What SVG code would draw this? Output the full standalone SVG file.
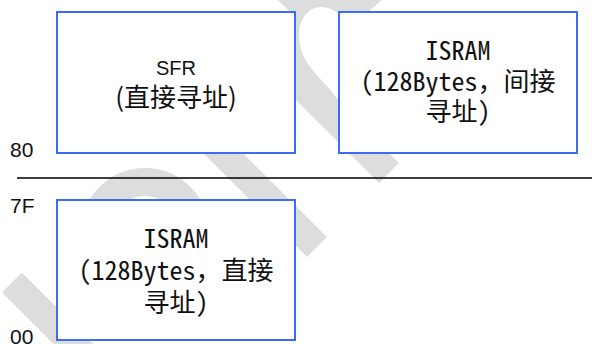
<svg xmlns="http://www.w3.org/2000/svg" width="592" height="344" viewBox="0 0 592 344">
<style>
.wm{fill:none;stroke:#dddddd;stroke-width:28;stroke-linecap:butt}
.box{fill:#ffffff;stroke:#3b6cf6;stroke-width:2}
.lbl{font-family:"Liberation Sans",Arial,sans-serif;font-size:21px;fill:#111}
.t1{font-family:"Liberation Sans","Noto Sans CJK SC",sans-serif;font-size:20px;fill:#111;text-anchor:middle}
.t2{font-family:"Noto Sans CJK SC",sans-serif;font-size:26px;fill:#111;text-anchor:middle}
.m{font-family:"Noto Sans Mono CJK SC","DejaVu Sans Mono","Noto Sans CJK SC",monospace;font-size:26px;fill:#111;text-anchor:middle}
</style>
<rect width="592" height="344" fill="#ffffff"/>
<g id="watermark">
<path d="M276,-2 L384,-2 L366,14 L345,14 L345,130 L326,130 L280,84 L280,28 L292,14 Z" fill="#dddddd"/>
<path d="M339,101 L328,87 C318,77 312,70 308,64 C302,55 299,45 299,35 C299,18 309,7 321,7 C330,7 337,11 342,18 L342,101 Z" fill="#ffffff"/>
<line class="wm" x1="389" y1="173" x2="270" y2="54"/>
<line class="wm" x1="317" y1="247" x2="130" y2="60"/>
<circle class="wm" cx="145" cy="232" r="50"/>
<line class="wm" x1="12" y1="282.5" x2="90" y2="360.5"/>
</g>
<g id="connectors">
<line x1="17" y1="178" x2="592" y2="178" stroke="#000" stroke-width="1.4"/>
</g>
<g id="node-sfr">
<rect class="box" x="57" y="12" width="238" height="141"/>
<text class="t1" x="176" y="75">SFR</text>
<text class="t2" x="176" y="107">(直接寻址)</text>
</g>
<g id="node-isram-indirect">
<rect class="box" x="339" y="12" width="238" height="141"/>
<text class="m" x="458" y="60">ISRAM</text>
<text class="m" x="458" y="91">(128Bytes，间接</text>
<text class="m" x="458" y="121">寻址)</text>
</g>
<g id="node-isram-direct">
<rect class="box" x="57" y="200" width="238" height="140"/>
<text class="m" x="176" y="248">ISRAM</text>
<text class="m" x="176" y="280">(128Bytes，直接</text>
<text class="m" x="176" y="312">寻址)</text>
</g>
<g id="labels">
<text class="lbl" x="10" y="157">80</text>
<text class="lbl" x="10" y="213">7F</text>
<text class="lbl" x="10" y="344">00</text>
</g>
</svg>
